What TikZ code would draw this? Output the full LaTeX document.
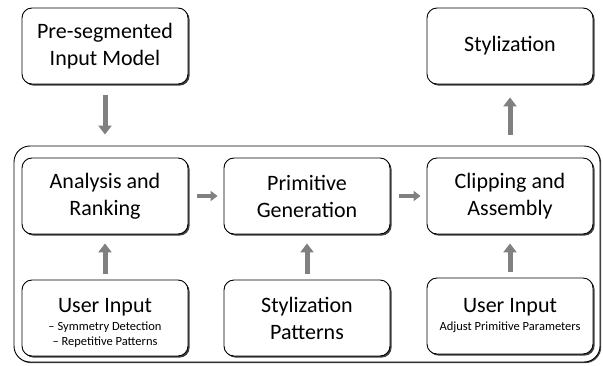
\documentclass[tikz,border=0pt]{standalone}
\usepackage{fontspec}
\setmainfont{Carlito}
\usetikzlibrary{arrows.meta,shadows}

\newcommand\subtxt{\fontsize{12.5}{14}\selectfont}

\tikzset{
  box/.style={draw, line width=0.9pt, rounded corners=10pt, fill=white,
    minimum width=166pt, minimum height=76pt, align=center, inner sep=0pt,
    font=\fontsize{22}{27}\selectfont,
    drop shadow={shadow xshift=1.6pt, shadow yshift=-1.6pt, fill=black!75, opacity=1}},
  frame/.style={draw, line width=0.9pt, rounded corners=16pt},
  uparr/.style={draw=black!50, line width=5pt, -{Triangle[length=9pt,width=13pt]}},
  sidearr/.style={draw=black!50, line width=4pt, -{Triangle[length=7pt,width=10pt]}}
}

\begin{document}
\begin{tikzpicture}[x=1pt,y=-1pt]
  \useasboundingbox (0,0) rectangle (603,366);

  % outer stage
  \draw[frame, drop shadow={shadow xshift=1.2pt, shadow yshift=-1.2pt, fill=black!70, opacity=1}, fill=white]
    (14,146) rectangle (600,362);

  \node[box] (pre) at (105,46) {Pre-segmented\\Input Model};
  \node[box] (styl) at (510,46) {Stylization};

  \node[box] (ana) at (105,196) {Analysis and\\Ranking};
  \node[box] (prim) at (307,196) {Primitive\\Generation};
  \node[box] (clip) at (510,196) {Clipping and\\Assembly};

  \node[box] (user) at (105,318) {\rule{0pt}{24pt}User Input\\[-9pt]{\subtxt -- Symmetry Detection}\\[-12pt]{\subtxt -- Repetitive Patterns}};
  \node[box] (pat) at (307,318) {Stylization\\Patterns};
  \node[box] (adj) at (510,316) {User Input\\[-9pt]{\subtxt Adjust Primitive Parameters}};

  \draw[uparr, shorten <=11pt, shorten >=23pt] (pre) -- (ana);
  \draw[uparr, shorten <=23pt, shorten >=13pt] (clip) -- (styl);

  \draw[sidearr, shorten <=9pt, shorten >=6pt] (ana) -- (prim);
  \draw[sidearr, shorten <=9pt, shorten >=6pt] (prim) -- (clip);

  \foreach \a/\b in {user/ana,pat/prim,adj/clip}
    \draw[uparr, shorten <=6pt, shorten >=9pt] (\a) -- (\b);
\end{tikzpicture}
\end{document}
